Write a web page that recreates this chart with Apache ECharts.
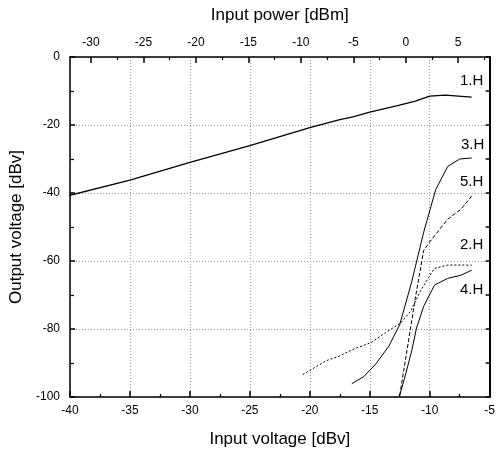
<!DOCTYPE html>
<html>
<head>
<meta charset="utf-8">
<script src="https://cdn.jsdelivr.net/npm/echarts@6/dist/echarts.min.js"></script>
<style>html,body{margin:0;padding:0;background:#fff;}#c{width:498px;height:453px;}</style>
</head>
<body>
<div id="c"></div>
<script>
// Harmonic output levels: [input voltage dBV, output voltage dBV]
const h1 = [[-40.6,-41.2],[-35,-36.2],[-30,-31],[-25,-26.1],[-20,-20.8],[-17.5,-18.4],[-16.4,-17.6],[-15,-16.2],[-12.6,-14.2],[-11.2,-13],[-10,-11.5],[-8.7,-11.2],[-6.5,-11.8]];
const h2 = [[-20.6,-93.4],[-18.6,-89.3],[-17.5,-87.9],[-16.4,-86],[-14.9,-84],[-13.7,-81.1],[-12.4,-78.2],[-11.6,-74.8],[-10.8,-69],[-10.1,-64.9],[-9.6,-62.2],[-8.5,-61.2],[-6.5,-61.2]];
const h3 = [[-16.5,-96.1],[-15.5,-94],[-14.5,-90.3],[-13.4,-85],[-12.5,-78.7],[-11.5,-66.1],[-10.5,-51.5],[-9.5,-39],[-8.5,-32.2],[-7.5,-30],[-6.5,-29.7]];
const h4 = [[-12.5,-99.5],[-12,-93.2],[-11.5,-86.4],[-11.1,-79.7],[-10.5,-73.3],[-9.6,-67.1],[-8.5,-65.1],[-7.4,-64.2],[-6.5,-62.7]];
const h5 = [[-12.5,-99.5],[-11.9,-86.4],[-11.2,-70.9],[-10.5,-56.9],[-10,-54.4],[-8.5,-47.7],[-7.4,-44.8],[-6.5,-40.9]];
const seriesNames = ['1.H','2.H','3.H','4.H','5.H'];
const powerTicks = [-30,-25,-20,-15,-10,-5,0,5];
const powerMinorTicks = [-27.5,-22.5,-17.5,-12.5,-7.5,-2.5,2.5,7.5];

const FONT = 'Liberation Sans';
const chart = echarts.init(document.getElementById('c'), null, {renderer:'canvas'});

function mkSeries(name, data, type, labelOffset, clip, width) {
  const last = data[data.length-1];
  return {
    name: name, type: 'line', data: data, xAxisIndex: 0, yAxisIndex: 0,
    symbol: 'none', showSymbol: false, clip: clip, animation: false, silent: true,
    lineStyle: {color: '#000', width: width, type: type},
    markPoint: {
      symbol: 'circle', symbolSize: 0, silent: true, animation: false,
      data: [{coord: last}],
      label: {show: true, formatter: name, color: '#000', fontSize: 15, fontFamily: FONT, offset: labelOffset}
    }
  };
}

const option = {
  backgroundColor: '#fff',
  animation: false,
  grid: {left: 68, right: 7, top: 57, bottom: 53},
  xAxis: [
    {
      type: 'value', min: -40, max: -5, interval: 5, position: 'bottom',
      name: 'Input voltage [dBv]', nameLocation: 'middle', nameGap: 34,
      nameTextStyle: {fontSize: 17, fontFamily: FONT, color: '#000'},
      axisLine: {show: true, onZero: false, lineStyle: {color: '#000', width: 1.5}},
      axisTick: {show: true, inside: true, length: 6, lineStyle: {color: '#000', width: 1.5}},
      minorTick: {show: true, splitNumber: 2, length: 3, lineStyle: {color: '#000', width: 1.2}},
      axisLabel: {fontSize: 12, fontFamily: FONT, color: '#000', margin: 8},
      splitLine: {show: true, lineStyle: {color: '#999', type: [1, 2], width: 1}}
    },
    {
      type: 'value', min: -32, max: 8, position: 'top',
      name: 'Input power [dBm]', nameLocation: 'middle', nameGap: 33,
      nameTextStyle: {fontSize: 17, fontFamily: FONT, color: '#000'},
      axisLine: {show: true, onZero: false, lineStyle: {color: '#000', width: 1.5}},
      axisTick: {show: true, inside: true, length: 6, customValues: powerTicks, lineStyle: {color: '#000', width: 1.5}},
      axisLabel: {fontSize: 12, fontFamily: FONT, color: '#000', margin: 8, customValues: powerTicks},
      splitLine: {show: false}
    },
    {
      type: 'value', min: -32, max: 8, position: 'top',
      axisLine: {show: false},
      axisTick: {show: true, inside: true, length: 3, customValues: powerMinorTicks, lineStyle: {color: '#000', width: 1.2}},
      axisLabel: {show: false},
      splitLine: {show: false}
    }
  ],
  yAxis: [
    {
      type: 'value', min: -100, max: 0, interval: 20, position: 'left',
      name: 'Output voltage [dBv]', nameLocation: 'middle', nameGap: 45,
      nameTextStyle: {fontSize: 17, fontFamily: FONT, color: '#000'},
      axisLine: {show: true, onZero: false, lineStyle: {color: '#000', width: 1.5}},
      axisTick: {show: true, inside: true, length: 5, lineStyle: {color: '#000', width: 1.5}},
      minorTick: {show: true, splitNumber: 2, length: 4, lineStyle: {color: '#000', width: 1.2}},
      axisLabel: {fontSize: 12, fontFamily: FONT, color: '#000', margin: 10},
      splitLine: {show: true, lineStyle: {color: '#999', type: [1, 2], width: 1}}
    },
    {
      type: 'value', min: -100, max: 0, interval: 10, position: 'right',
      axisLine: {show: true, onZero: false, lineStyle: {color: '#000', width: 2}},
      axisTick: {show: true, inside: true, length: 4, lineStyle: {color: '#000', width: 1.5}},
      axisLabel: {show: false},
      splitLine: {show: false}
    }
  ],
  series: [
    mkSeries(seriesNames[0], h1, 'solid', [0, -16], false, 1.3),
    mkSeries(seriesNames[1], h2, [2, 2], [0, -20], true, 1),
    mkSeries(seriesNames[2], h3, 'solid', [1, -13], true, 1),
    mkSeries(seriesNames[3], h4, 'solid', [0, 20], true, 1),
    mkSeries(seriesNames[4], h5, [4, 2], [0, -14], true, 1)
  ]
};
chart.setOption(option);
</script>
</body>
</html>
